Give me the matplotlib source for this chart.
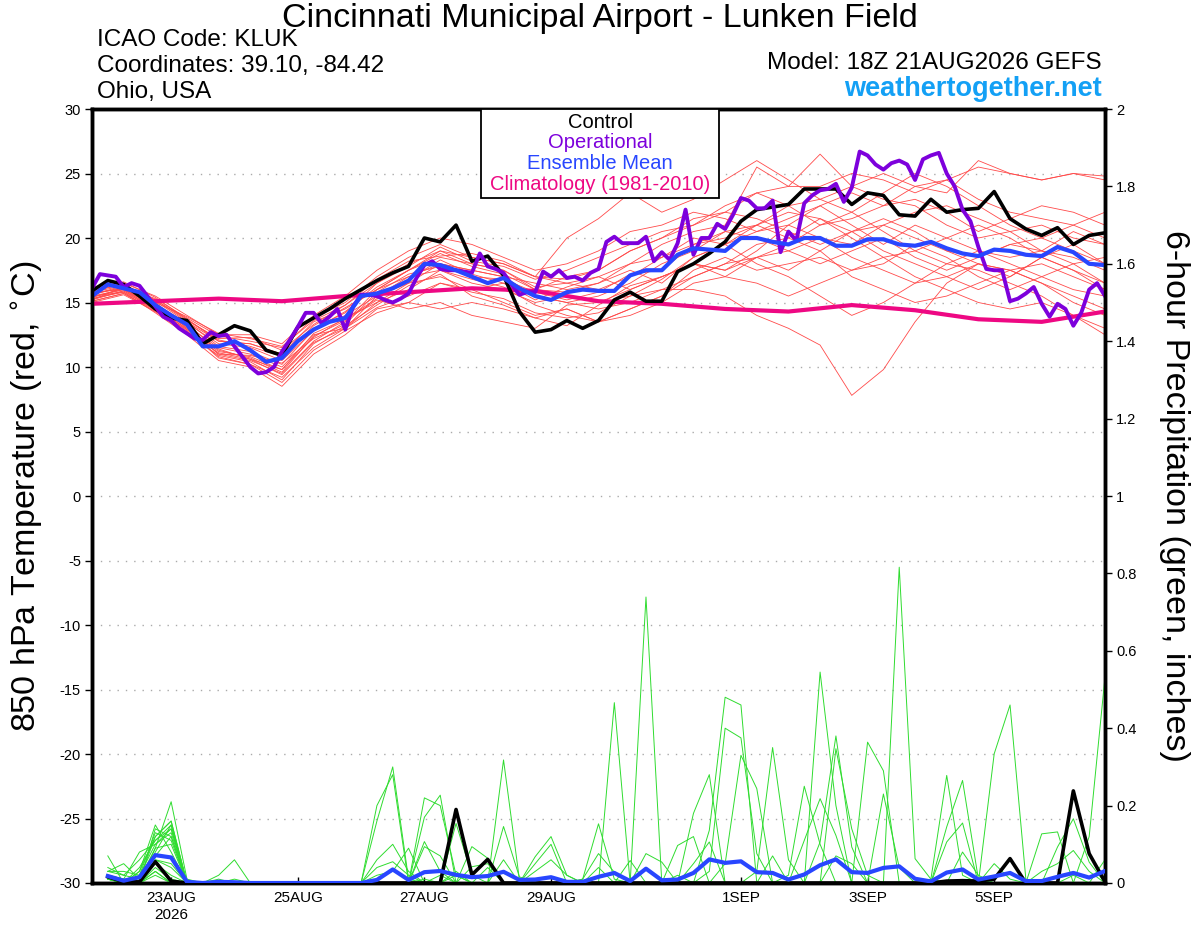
"""GEFS 850 hPa temperature / 6-hour precipitation meteogram for KLUK."""

import numpy as np
import matplotlib
matplotlib.use("Agg")
import matplotlib.pyplot as plt
from matplotlib.patches import Rectangle

plt.rcParams["font.family"] = ["Liberation Sans", "DejaVu Sans"]
plt.rcParams["axes.unicode_minus"] = False

OUT = "out.png"

# forecast hours since 18Z 21AUG2026
hours_6h = np.arange(0, 385, 6)
hours_3h = np.arange(0, 385, 3)
hours_12h = np.arange(0, 385, 12)
hours_24h = np.arange(0, 385, 24)
precip_hours = np.arange(6, 385, 6)

tick_hours = [30, 78, 126, 174, 246, 294, 342]
tick_labels = ["23AUG\n2026", "25AUG", "27AUG", "29AUG", "1SEP", "3SEP", "5SEP"]

# 850 hPa temperature (C), 6-hourly
control_temp = [15.9, 16.7, 16.4, 15.5, 14.5, 13.8, 13.6, 11.8, 12.5, 13.2,
                12.8, 11.3, 10.9, 13.1, 13.8, 14.5, 15.3, 16.0, 16.7, 17.3,
                17.8, 20.0, 19.7, 21.0, 18.2, 18.6, 17.1, 14.3, 12.7, 12.9,
                13.6, 13.0, 13.6, 15.2, 15.8, 15.1, 15.1, 17.4, 18.0, 18.8,
                19.7, 21.3, 22.2, 22.4, 22.6, 23.8, 23.8, 23.8, 22.6, 23.5,
                23.3, 21.8, 21.7, 23.0, 22.0, 22.2, 22.3, 23.6, 21.5, 20.7,
                20.2, 20.8, 19.5, 20.2, 20.4]
mean_temp = [15.5, 16.4, 16.1, 15.8, 14.8, 14.0, 13.3, 11.6, 11.6, 12.0,
             11.3, 10.4, 10.7, 12.0, 12.9, 13.5, 13.8, 15.5, 15.7, 16.1,
             16.7, 18.0, 17.9, 17.5, 17.0, 16.5, 16.9, 16.1, 15.5, 15.2,
             15.8, 16.0, 15.9, 15.9, 17.1, 17.5, 17.5, 18.7, 19.2, 19.1,
             19.0, 20.0, 20.0, 19.7, 19.5, 20.0, 20.0, 19.4, 19.4, 19.9,
             19.9, 19.5, 19.4, 19.7, 19.2, 18.8, 18.6, 19.1, 19.0, 18.7,
             18.6, 19.3, 18.9, 18.0, 17.9]

# operational run, 3-hourly
oper_temp = [16.1, 17.2, 17.1, 17.0, 16.2, 16.5, 16.3, 15.5, 14.7, 13.9,
             13.6, 13.0, 12.6, 12.2, 12.1, 12.7, 12.4, 12.5, 11.6, 10.8,
             10.0, 9.5, 9.6, 10.0, 11.2, 12.1, 13.1, 14.2, 14.2, 13.4,
             13.9, 14.5, 12.9, 14.7, 15.6, 15.6, 15.5, 15.2, 15.0, 15.3,
             15.7, 16.9, 17.9, 18.2, 17.6, 17.5, 17.5, 17.4, 17.3, 18.8,
             17.8, 17.6, 17.3, 16.4, 15.6, 15.8, 15.8, 17.4, 17.0, 17.5,
             16.9, 17.0, 16.7, 17.3, 17.6, 19.7, 20.1, 19.6, 19.6, 19.6,
             20.1, 18.2, 18.9, 18.3, 19.6, 22.2, 18.7, 20.0, 20.0, 21.1,
             20.7, 21.8, 23.1, 22.9, 22.3, 22.3, 22.9, 18.9, 20.5, 19.8,
             22.7, 23.3, 23.7, 23.8, 24.2, 22.8, 23.9, 26.7, 26.4, 25.7,
             25.3, 25.8, 26.0, 25.7, 24.5, 26.1, 26.4, 26.6, 25.0, 24.0,
             22.2, 21.3, 19.3, 17.6, 17.5, 17.5, 15.1, 15.3, 15.7, 16.2,
             14.9, 13.9, 14.9, 14.5, 13.2, 14.2, 16.0, 16.5, 15.5]

# 1981-2010 climatology, daily
clim_temp = [14.9, 15.1, 15.3, 15.1, 15.5, 15.8, 16.1, 15.9, 15.1,
             14.9, 14.5, 14.3, 14.8, 14.4, 13.7, 13.5, 14.3]

# ensemble members, 12-hourly
member_temps = [
    [15.6, 16.3, 15.0, 13.0, 11.0, 10.5, 9.5, 12.0, 13.5, 16.0, 17.5,
     18.5, 18.0, 17.5, 16.0, 17.0, 17.5, 19.0, 20.0, 21.5, 22.0, 23.5,
     24.0, 26.5, 24.0, 23.0, 22.5, 21.0, 20.0, 20.5, 21.0, 20.0, 19.5],
    [15.3, 15.9, 14.6, 13.5, 12.0, 11.8, 11.0, 13.5, 14.5, 16.0, 17.0,
     17.5, 16.5, 16.0, 15.0, 15.5, 15.0, 16.0, 17.0, 18.0, 17.5, 18.5,
     19.0, 20.0, 19.5, 21.0, 22.0, 22.5, 21.5, 20.5, 19.0, 18.0, 16.5],
    [15.8, 16.0, 14.5, 12.8, 10.8, 10.2, 9.2, 11.5, 13.0, 15.0, 16.5,
     18.0, 17.5, 17.0, 16.5, 16.0, 16.5, 17.5, 16.5, 18.5, 19.5, 18.0,
     17.0, 15.5, 14.0, 15.0, 16.5, 17.0, 18.0, 17.5, 16.5, 15.5, 14.5],
    [15.2, 16.2, 15.3, 13.8, 12.4, 12.0, 11.5, 13.8, 15.0, 17.0, 18.5,
     19.5, 18.5, 18.0, 17.0, 16.5, 17.0, 18.0, 19.5, 20.5, 21.0, 25.5,
     24.0, 24.0, 25.0, 24.5, 23.5, 24.5, 23.0, 22.0, 21.5, 21.0, 20.0],
    [15.5, 15.8, 14.2, 12.5, 10.5, 10.0, 8.5, 11.0, 12.5, 14.5, 15.0,
     16.5, 16.0, 15.0, 14.0, 14.5, 13.5, 14.5, 15.5, 17.0, 18.0, 19.5,
     20.0, 19.0, 17.0, 16.0, 15.0, 15.5, 16.5, 17.5, 18.0, 17.0, 16.0],
    [16.0, 16.5, 15.5, 14.0, 12.5, 12.5, 11.8, 14.0, 15.5, 17.5, 19.0,
     20.0, 19.5, 18.5, 17.5, 18.0, 19.0, 20.5, 21.0, 22.0, 21.5, 20.5,
     21.5, 22.5, 23.5, 22.5, 24.0, 24.5, 25.5, 25.0, 24.5, 25.0, 24.5],
    [15.4, 16.0, 14.8, 13.2, 11.5, 11.0, 10.0, 12.5, 13.0, 15.5, 16.5,
     17.0, 16.0, 16.5, 15.5, 15.0, 15.5, 16.5, 18.0, 19.0, 20.5, 21.0,
     20.0, 21.5, 20.5, 19.0, 18.0, 17.0, 16.0, 17.0, 18.5, 19.5, 18.0],
    [15.7, 16.1, 14.9, 13.4, 11.8, 11.5, 10.5, 12.8, 14.0, 15.5, 17.0,
     18.0, 17.5, 17.0, 15.5, 15.0, 14.5, 15.0, 16.0, 16.0, 15.5, 14.0,
     13.0, 11.7, 7.8, 9.8, 13.5, 16.5, 18.0, 17.0, 18.5, 17.5, 16.0],
    [15.1, 15.7, 14.4, 13.0, 11.2, 10.8, 9.8, 12.3, 13.8, 15.0, 16.0,
     17.5, 16.8, 16.2, 14.8, 14.0, 13.5, 14.0, 15.0, 16.5, 17.0, 18.5,
     17.5, 19.0, 20.5, 21.5, 20.5, 19.0, 18.5, 19.5, 20.0, 21.0, 22.0],
    [15.9, 16.4, 15.2, 13.6, 12.2, 12.3, 11.3, 13.3, 14.8, 16.5, 18.0,
     19.0, 18.0, 17.5, 16.2, 16.5, 16.0, 17.0, 18.5, 19.5, 20.0, 21.0,
     22.5, 23.0, 22.0, 20.5, 19.0, 18.0, 17.5, 16.5, 15.5, 14.0, 13.0],
    [15.0, 15.6, 14.3, 12.6, 10.9, 10.4, 9.0, 11.8, 13.2, 14.8, 16.3,
     17.2, 15.5, 14.8, 13.8, 14.5, 13.5, 14.5, 15.5, 17.5, 18.5, 17.5,
     18.0, 18.5, 17.5, 18.0, 19.5, 18.5, 17.0, 16.0, 17.0, 18.0, 18.5],
    [16.2, 16.6, 15.4, 13.7, 12.0, 11.8, 11.0, 13.0, 14.2, 16.5, 17.8,
     19.3, 18.2, 17.8, 16.8, 17.5, 18.5, 19.5, 20.5, 21.0, 22.5, 23.5,
     22.5, 21.0, 21.5, 22.5, 23.0, 22.0, 20.5, 21.5, 22.5, 22.0, 21.0],
    [15.5, 16.0, 14.7, 12.9, 11.4, 10.6, 9.8, 12.6, 13.7, 15.3, 16.8,
     18.3, 17.2, 16.5, 15.2, 16.2, 17.0, 16.0, 17.0, 18.0, 17.5, 19.0,
     21.0, 22.5, 21.0, 19.5, 21.0, 20.0, 19.0, 18.0, 17.0, 16.0, 15.5],
    [15.3, 15.8, 14.5, 13.1, 11.0, 10.9, 10.3, 12.2, 13.3, 15.8, 17.2,
     17.8, 17.0, 16.8, 15.8, 15.2, 15.8, 17.2, 17.5, 19.5, 20.5, 20.0,
     19.0, 18.0, 19.0, 20.0, 18.5, 17.5, 18.5, 19.5, 19.0, 20.5, 19.5],
    [15.8, 16.3, 15.1, 13.5, 11.6, 11.2, 10.2, 12.9, 14.3, 16.2, 17.5,
     18.8, 17.8, 17.2, 16.0, 15.8, 16.5, 18.0, 18.5, 20.0, 19.5, 20.5,
     21.0, 20.0, 18.5, 17.5, 16.5, 18.0, 19.0, 18.5, 19.0, 18.5, 17.5],
    [15.4, 16.1, 14.6, 13.3, 11.3, 10.7, 9.6, 12.4, 13.6, 15.2, 14.5,
     15.0, 14.0, 13.5, 13.0, 14.8, 15.0, 15.5, 16.0, 17.0, 18.0, 18.5,
     19.5, 21.0, 22.0, 23.5, 25.0, 24.0, 22.5, 21.0, 20.0, 19.0, 18.0],
    [15.6, 16.2, 15.0, 13.9, 12.6, 12.2, 11.6, 13.6, 14.8, 16.8, 18.2,
     18.6, 18.8, 18.2, 17.0, 16.8, 17.5, 19.0, 20.0, 21.0, 22.0, 21.5,
     20.5, 19.5, 20.5, 21.0, 20.0, 19.0, 18.0, 17.5, 16.5, 15.0, 14.0],
    [15.2, 15.9, 14.4, 12.7, 11.1, 10.6, 9.4, 11.9, 13.0, 14.6, 15.5,
     16.5, 15.8, 15.3, 14.2, 13.8, 14.2, 15.5, 16.8, 18.5, 19.5, 21.0,
     22.0, 21.5, 20.0, 18.5, 17.0, 16.0, 15.0, 14.5, 15.0, 14.0, 12.5],
    [15.9, 16.4, 15.2, 13.7, 12.1, 11.6, 10.8, 13.2, 14.6, 16.0, 17.5,
     19.0, 18.5, 18.0, 17.0, 20.0, 21.5, 23.5, 22.0, 23.0, 24.5, 26.0,
     24.5, 23.0, 24.0, 25.0, 24.0, 23.5, 26.0, 25.0, 24.5, 25.0, 24.8],
    [15.1, 15.7, 14.3, 12.9, 10.7, 10.2, 8.8, 11.3, 12.8, 14.2, 15.0,
     14.5, 15.0, 14.5, 13.8, 13.2, 14.8, 16.3, 17.0, 18.0, 17.0, 16.5,
     15.5, 16.5, 17.5, 18.5, 19.0, 20.0, 21.0, 20.0, 18.5, 17.5, 16.5],
]

# 6-hour precipitation (inches), periods ending 06h ... 384h
control_precip = [0.016, 0.003, 0.003, 0.055, 0.005, 0, 0, 0,
                  0, 0, 0, 0, 0, 0, 0, 0,
                  0, 0, 0, 0, 0, 0, 0.19, 0.021,
                  0.061, 0, 0, 0, 0, 0, 0, 0,
                  0, 0, 0, 0, 0, 0, 0, 0,
                  0, 0, 0, 0, 0, 0, 0, 0,
                  0, 0, 0, 0, 0, 0.005, 0.006, 0.005,
                  0.01, 0.063, 0, 0, 0, 0.238, 0.076, 0.003]
mean_precip = [0.018, 0.006, 0.015, 0.072, 0.066, 0.003, 0, 0.003,
               0.002, 0, 0, 0, 0, 0, 0, 0,
               0, 0.008, 0.035, 0.008, 0.028, 0.031, 0.021, 0.015,
               0.018, 0.029, 0.008, 0.009, 0.015, 0.003, 0.003, 0.016,
               0.026, 0.005, 0.037, 0.007, 0.009, 0.026, 0.061, 0.052,
               0.056, 0.028, 0.026, 0.009, 0.022, 0.046, 0.061, 0.028,
               0.026, 0.039, 0.043, 0.011, 0.004, 0.027, 0.035, 0.009,
               0.017, 0.026, 0.005, 0.005, 0.016, 0.026, 0.014, 0.031]

member_precips = [
    [0.02, 0.01, 0, 0.14, 0.12, 0, 0, 0, 0, 0, 0, 0, 0, 0, 0, 0,
     0, 0.16, 0.30, 0.01, 0, 0, 0, 0, 0, 0, 0, 0, 0, 0, 0, 0,
     0, 0, 0, 0, 0, 0.18, 0.28, 0, 0, 0, 0, 0, 0, 0, 0, 0,
     0, 0, 0, 0, 0, 0, 0, 0, 0, 0, 0, 0.127, 0.132, 0, 0, 0],
    [0.07, 0, 0.03, 0.12, 0.16, 0, 0, 0, 0, 0, 0, 0, 0, 0, 0, 0,
     0, 0, 0, 0, 0.22, 0.20, 0.02, 0, 0, 0, 0, 0, 0, 0, 0, 0,
     0, 0, 0, 0, 0.02, 0, 0, 0, 0, 0, 0, 0, 0, 0, 0, 0,
     0.364, 0.29, 0, 0, 0, 0, 0, 0, 0, 0, 0, 0, 0, 0, 0, 0.06],
    [0.03, 0.05, 0.01, 0.09, 0.21, 0.01, 0, 0, 0, 0, 0, 0, 0, 0, 0, 0,
     0, 0, 0, 0, 0, 0, 0, 0, 0.04, 0, 0, 0.068, 0.12, 0.02, 0, 0,
     0, 0, 0, 0, 0, 0, 0, 0, 0, 0, 0, 0, 0, 0.106, 0.38, 0.093,
     0, 0, 0, 0, 0, 0, 0, 0, 0, 0, 0, 0, 0, 0, 0, 0],
    [0.01, 0, 0, 0.06, 0.04, 0, 0, 0, 0, 0, 0, 0, 0, 0, 0, 0,
     0, 0.20, 0.28, 0, 0.01, 0, 0, 0, 0, 0, 0, 0, 0, 0, 0, 0,
     0, 0, 0, 0, 0, 0.05, 0.106, 0, 0, 0, 0, 0, 0, 0, 0, 0,
     0, 0, 0.816, 0.063, 0.01, 0, 0, 0, 0, 0, 0, 0, 0, 0, 0, 0],
    [0.04, 0.02, 0.06, 0.11, 0.14, 0, 0, 0.02, 0.06, 0, 0, 0, 0, 0, 0, 0,
     0, 0, 0, 0, 0, 0, 0, 0, 0, 0.318, 0.01, 0, 0, 0, 0, 0,
     0, 0, 0, 0, 0, 0, 0, 0, 0, 0, 0, 0, 0.11, 0.218, 0.123, 0,
     0, 0, 0, 0, 0, 0, 0, 0, 0, 0, 0, 0, 0, 0, 0, 0],
    [0, 0, 0, 0.03, 0, 0, 0, 0, 0, 0, 0, 0, 0, 0, 0, 0,
     0, 0, 0, 0, 0.17, 0.227, 0, 0, 0, 0, 0, 0, 0, 0, 0, 0,
     0, 0, 0, 0, 0, 0, 0, 0.05, 0.33, 0.244, 0, 0, 0, 0, 0, 0,
     0, 0, 0, 0, 0, 0, 0, 0, 0, 0, 0, 0, 0.093, 0.166, 0.054, 0],
    [0.02, 0.01, 0.08, 0.10, 0.13, 0, 0, 0, 0, 0, 0, 0, 0, 0, 0, 0,
     0, 0.06, 0.10, 0.03, 0, 0, 0, 0, 0, 0, 0, 0, 0, 0, 0.01, 0.153,
     0.01, 0, 0, 0, 0, 0, 0, 0, 0, 0, 0, 0, 0, 0, 0, 0,
     0, 0, 0, 0, 0, 0.106, 0.155, 0, 0, 0, 0, 0, 0, 0, 0, 0],
    [0.01, 0, 0, 0.05, 0.02, 0, 0, 0, 0, 0, 0, 0, 0, 0, 0, 0,
     0, 0, 0, 0, 0, 0, 0, 0, 0, 0.146, 0.016, 0, 0, 0, 0, 0,
     0, 0, 0, 0, 0, 0, 0, 0, 0, 0, 0, 0, 0, 0.545, 0.20, 0,
     0, 0, 0, 0, 0, 0, 0, 0, 0, 0, 0, 0, 0, 0, 0, 0],
    [0.03, 0.03, 0.02, 0.13, 0.11, 0, 0, 0, 0, 0, 0, 0, 0, 0, 0, 0,
     0, 0, 0, 0, 0.107, 0.03, 0, 0, 0, 0, 0, 0, 0, 0, 0, 0,
     0.466, 0, 0, 0, 0, 0, 0, 0, 0, 0, 0, 0, 0, 0, 0, 0,
     0, 0.23, 0.04, 0, 0, 0, 0, 0, 0, 0, 0, 0, 0, 0, 0, 0],
    [0, 0, 0, 0.08, 0.15, 0, 0, 0.01, 0, 0, 0, 0, 0, 0, 0, 0,
     0, 0, 0, 0, 0, 0, 0.154, 0.02, 0, 0, 0, 0, 0, 0, 0, 0,
     0, 0, 0, 0, 0, 0, 0.03, 0.40, 0.375, 0.076, 0, 0, 0, 0, 0, 0,
     0, 0, 0, 0, 0, 0, 0, 0, 0, 0, 0, 0, 0, 0, 0, 0],
    [0.02, 0, 0, 0.04, 0.01, 0, 0, 0, 0, 0, 0, 0, 0, 0, 0, 0,
     0, 0, 0, 0, 0, 0, 0, 0.094, 0.064, 0, 0, 0, 0, 0, 0, 0,
     0, 0.058, 0, 0, 0, 0, 0, 0, 0, 0, 0, 0, 0, 0, 0.347, 0.14,
     0.02, 0, 0, 0, 0, 0, 0, 0, 0, 0, 0, 0, 0, 0, 0, 0],
    [0.01, 0, 0.03, 0.15, 0.08, 0, 0, 0, 0, 0, 0, 0, 0, 0, 0, 0,
     0, 0.04, 0.055, 0.02, 0, 0, 0, 0, 0, 0, 0, 0.05, 0.10, 0, 0, 0,
     0, 0, 0, 0, 0, 0, 0, 0, 0, 0, 0.07, 0, 0, 0, 0, 0,
     0, 0, 0, 0, 0, 0, 0, 0, 0.334, 0.46, 0.01, 0, 0, 0, 0, 0],
    [0, 0, 0, 0.07, 0.12, 0, 0, 0, 0, 0, 0, 0, 0, 0, 0, 0,
     0, 0, 0, 0, 0.094, 0.07, 0, 0, 0, 0, 0, 0, 0, 0, 0, 0,
     0, 0, 0.739, 0, 0, 0, 0, 0, 0, 0, 0, 0, 0, 0, 0, 0,
     0, 0, 0, 0, 0, 0.145, 0.265, 0.01, 0, 0, 0, 0, 0, 0, 0, 0],
    [0.02, 0.01, 0, 0.02, 0, 0, 0, 0, 0.01, 0, 0, 0, 0, 0, 0, 0,
     0, 0, 0, 0, 0, 0, 0, 0, 0, 0.06, 0, 0, 0, 0, 0, 0,
     0, 0, 0, 0, 0, 0, 0, 0, 0, 0, 0, 0, 0, 0, 0.07, 0.05,
     0, 0, 0, 0, 0, 0, 0, 0, 0, 0, 0, 0.03, 0.05, 0.084, 0.03, 0],
    [0.01, 0, 0.02, 0.10, 0.14, 0, 0, 0, 0, 0, 0, 0, 0, 0, 0, 0,
     0, 0, 0, 0, 0, 0, 0.03, 0, 0, 0, 0, 0, 0, 0, 0.01, 0.076,
     0.028, 0, 0, 0, 0, 0, 0, 0, 0, 0, 0, 0, 0, 0, 0, 0,
     0, 0, 0, 0, 0.01, 0.278, 0.02, 0, 0, 0, 0, 0, 0, 0, 0, 0],
    [0.03, 0.02, 0.01, 0.12, 0.16, 0, 0, 0, 0, 0, 0, 0, 0, 0, 0, 0,
     0, 0.02, 0.03, 0.09, 0, 0, 0, 0, 0, 0, 0, 0, 0, 0, 0, 0,
     0, 0, 0, 0, 0.097, 0.12, 0, 0, 0, 0, 0, 0, 0, 0, 0, 0,
     0, 0, 0, 0, 0, 0, 0.08, 0.02, 0, 0, 0, 0, 0, 0, 0, 0],
    [0, 0, 0, 0.06, 0.05, 0, 0, 0, 0, 0, 0, 0, 0, 0, 0, 0,
     0, 0, 0, 0, 0, 0, 0, 0.042, 0.05, 0, 0, 0, 0, 0, 0, 0,
     0, 0, 0, 0, 0, 0, 0.136, 0.48, 0.46, 0, 0, 0, 0, 0, 0, 0,
     0, 0, 0, 0, 0, 0, 0, 0, 0, 0, 0, 0, 0, 0, 0.12, 0.532],
    [0.01, 0, 0, 0.09, 0.10, 0, 0, 0, 0, 0, 0, 0, 0, 0, 0, 0,
     0, 0, 0, 0, 0, 0.02, 0, 0, 0, 0, 0, 0, 0, 0, 0, 0.04,
     0, 0, 0, 0, 0, 0, 0, 0, 0, 0.03, 0.35, 0.06, 0, 0, 0, 0,
     0, 0, 0, 0, 0, 0, 0, 0, 0, 0, 0, 0, 0, 0.02, 0, 0],
    [0.02, 0, 0.04, 0.11, 0.15, 0, 0, 0, 0, 0, 0, 0, 0, 0, 0, 0,
     0, 0, 0, 0, 0, 0, 0.02, 0, 0, 0, 0, 0, 0, 0, 0, 0,
     0, 0, 0.076, 0.054, 0, 0, 0, 0, 0, 0, 0, 0, 0, 0, 0, 0,
     0, 0, 0, 0, 0, 0, 0, 0, 0.05, 0.01, 0, 0, 0, 0, 0, 0],
    [0, 0, 0, 0.03, 0, 0, 0, 0, 0, 0, 0, 0, 0, 0, 0, 0,
     0, 0, 0, 0, 0, 0, 0, 0, 0, 0, 0, 0.03, 0.06, 0.02, 0, 0,
     0, 0, 0, 0, 0, 0, 0, 0, 0, 0, 0, 0.02, 0.25, 0.10, 0, 0,
     0, 0, 0, 0, 0, 0, 0, 0, 0, 0, 0, 0, 0, 0, 0, 0],
]

RED = "#ff4a4a"
GREEN = "#2fdc2f"
PURPLE = "#7d00dc"
BLUE = "#2846ff"
MAGENTA = "#ee0883"


def main():
    fig = plt.figure(figsize=(12, 9.27), dpi=100)
    ax = fig.add_axes([92 / 1200, 1 - 883 / 927, 1013 / 1200, 774 / 927])
    ax2 = ax.twinx()

    for member in member_temps:
        ax.plot(hours_12h, member, color=RED, lw=0.6, zorder=2)
    ax.plot(hours_24h, clim_temp, color=MAGENTA, lw=3, zorder=4)
    ax.plot(hours_6h, control_temp, color="black", lw=2.6, zorder=5)
    ax.plot(hours_3h, oper_temp, color=PURPLE, lw=2.8, zorder=6)
    ax.plot(hours_6h, mean_temp, color=BLUE, lw=3, zorder=7)

    for member in member_precips:
        ax2.plot(precip_hours, member, color=GREEN, lw=0.7, zorder=2)
    ax2.plot(precip_hours, control_precip, color="black", lw=2.6, zorder=5)
    ax2.plot(precip_hours, mean_precip, color=BLUE, lw=3, zorder=6)

    ax.set_xlim(0, 384)
    ax.set_ylim(-30, 30)
    ax2.set_ylim(0, 2)
    ax.set_yticks(np.arange(-30, 31, 5))
    ax2.set_yticks(np.arange(0, 2.01, 0.2))
    ax2.set_yticklabels(["0", "0.2", "0.4", "0.6", "0.8", "1", "1.2", "1.4",
                         "1.6", "1.8", "2"])
    ax.set_xticks(tick_hours)
    ax.set_xticklabels(tick_labels, fontsize=11)

    for y in np.arange(-25, 26, 5):
        ax.axhline(y, color="#aaaaaa", lw=1, ls=(0, (1, 5)), zorder=1)

    ax.tick_params(axis="y", direction="out", length=5, width=1, labelsize=10.5, pad=3)
    ax2.tick_params(axis="y", direction="out", length=5, width=1, labelsize=10.5, pad=3)
    ax.tick_params(axis="x", direction="in", length=4, width=1, pad=6)
    for a in (ax, ax2):
        for s in a.spines.values():
            s.set_linewidth(2.5)

    ax.set_ylabel("850 hPa Temperature (red, $^{\\circ}$C)", fontsize=24.5,
                  va="center")
    ax.yaxis.set_label_coords(-0.063, 0.5)
    ax2.set_ylabel("6-hour Precipitation (green, inches)", fontsize=24.5,
                   rotation=-90, va="center")
    ax2.yaxis.set_label_coords(1.069, 0.5)

    # legend box
    ax2.add_patch(Rectangle((0.384, 0.885), 0.235, 0.115, transform=ax.transAxes,
                            facecolor="white", edgecolor="black", lw=1.3,
                            zorder=10, clip_on=False))
    for text, color, y in [("Control", "black", 0.983),
                           ("Operational", PURPLE, 0.957),
                           ("Ensemble Mean", BLUE, 0.930),
                           ("Climatology (1981-2010)", MAGENTA, 0.902)]:
        ax2.text(0.5015, y, text, color=color, fontsize=14.5, ha="center",
                 va="center", transform=ax.transAxes, zorder=11)

    fig.text(0.5, 1 - 18 / 927, "Cincinnati Municipal Airport - Lunken Field",
             fontsize=24.5, ha="center", va="center")
    fig.text(97 / 1200, 1 - 40 / 927, "ICAO Code: KLUK", fontsize=17.5, va="center")
    fig.text(97 / 1200, 1 - 66 / 927, "Coordinates: 39.10, -84.42", fontsize=17.5,
             va="center")
    fig.text(97 / 1200, 1 - 92 / 927, "Ohio, USA", fontsize=17.5, va="center")
    fig.text(1102 / 1200, 1 - 63 / 927, "Model: 18Z 21AUG2026 GEFS", fontsize=17.5,
             ha="right", va="center")
    fig.text(1102 / 1200, 1 - 89 / 927, "weathertogether.net", fontsize=19.5,
             fontweight="bold", color="#13a0f5", ha="right", va="center")

    fig.savefig(OUT, dpi=100)
    plt.close(fig)
    print(f"Saved {OUT}")


if __name__ == "__main__":
    main()
